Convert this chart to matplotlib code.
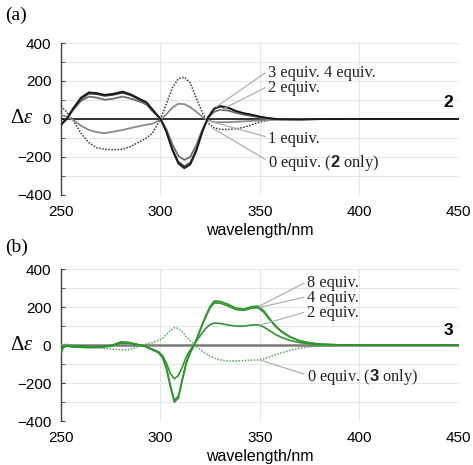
import matplotlib
matplotlib.use("Agg")
import matplotlib.pyplot as plt
from matplotlib.ticker import MultipleLocator

plt.rcParams['mathtext.fontset'] = 'custom'
plt.rcParams['mathtext.rm'] = 'Liberation Serif'
plt.rcParams['mathtext.it'] = 'Liberation Serif:italic'
plt.rcParams['mathtext.bf'] = 'Liberation Sans:bold'

# ---------------- data: panel (a) ----------------
wl_a = [250, 253, 256, 260, 264, 268, 272, 276, 281, 285, 290, 293, 296, 300, 303, 306, 309, 312,
        315, 318, 321, 324, 327, 330, 334, 338, 342, 346, 350, 355, 360, 370, 380, 400, 450]
a_4eq = [-32, 2, 55, 112, 140, 136, 127, 132, 144, 130, 103, 88, 50, 0, -70, -165, -235, -260,
         -240, -170, -70, 10, 55, 68, 60, 42, 30, 22, 12, 3, -2, -3, -1, 0, 0]
a_3eq = [-30, 2, 50, 105, 133, 130, 121, 126, 137, 124, 98, 84, 48, 0, -66, -158, -225, -250,
         -230, -162, -66, 9, 52, 65, 57, 40, 29, 21, 11, 3, -2, -3, -1, 0, 0]
a_2eq = [-25, 2, 45, 95, 118, 112, 101, 106, 118, 107, 90, 75, 40, 0, -55, -135, -195, -216,
         -200, -140, -58, 6, 38, 48, 44, 32, 22, 15, 8, 2, -1, -2, -1, 0, 0]
a_1eq = [20, 12, -5, -35, -58, -70, -75, -68, -58, -48, -37, -30, -25, -5, 25, 60, 80, 78,
         62, 38, 12, -8, -17, -18, -17, -15, -13, -10, -8, -5, -3, -2, -1, 0, 0]
a_0eq = [68, 35, -5, -75, -125, -152, -160, -162, -160, -145, -118, -100, -75, 0, 80, 165, 212, 220,
         190, 110, 35, -23, -47, -55, -56, -52, -44, -30, -16, -6, -3, -1, 0, 0, 0]

# ---------------- data: panel (b) ----------------
wl_b = [250, 251, 253, 256, 260, 265, 270, 275, 280, 284, 288, 292, 296, 299, 301, 303, 305, 307,
        309, 311, 313, 315, 317, 319, 321, 323, 325, 327, 330, 334, 338, 342, 346, 349, 352, 355,
        358, 361, 365, 370, 375, 380, 390, 400, 450]
b_8eq = [-45, -15, -3, -8, -5, -10, -9, -3, 16, 14, 4, -5, -25, -40, -65, -125, -220, -300,
         -280, -185, -95, -40, 0, 55, 110, 160, 205, 232, 230, 215, 195, 190, 203, 205, 180, 138,
         100, 72, 45, 23, 12, 5, 1, 0, 0]
b_4eq = [-40, -12, -3, -8, -5, -10, -9, -3, 15, 13, 4, -5, -24, -38, -62, -120, -212, -290,
         -270, -178, -92, -38, 0, 52, 105, 153, 197, 222, 221, 206, 187, 183, 195, 197, 173, 133,
         96, 69, 43, 22, 11, 5, 1, 0, 0]
b_2eq = [-30, -10, -5, -10, -12, -14, -12, -6, 10, 10, 3, -5, -22, -35, -55, -95, -150, -178,
         -160, -115, -62, -25, 3, 35, 65, 90, 108, 116, 114, 106, 100, 100, 106, 107, 95, 75,
         55, 40, 25, 13, 7, 3, 1, 0, 0]
b_0eq = [0, 2, 5, -3, -5, -8, -15, -20, -25, -24, -12, 3, 14, 25, 35, 55, 78, 92,
         88, 70, 45, 22, 3, -15, -32, -45, -58, -68, -78, -84, -83, -81, -79, -78, -72, -62,
         -50, -40, -28, -16, -9, -5, -1, 0, 0]

labels_a = ["3 equiv. 4 equiv.", "2 equiv.", "1 equiv.", r"0 equiv. ($\mathbf{2}$ only)"]
labels_b = ["8 equiv.", "4 equiv.", "2 equiv.", r"0 equiv. ($\mathbf{3}$ only)"]

fig = plt.figure(figsize=(4.73, 4.65), dpi=100)
axA = fig.add_axes([0.129, 0.581, 0.841, 0.3265])
axB = fig.add_axes([0.129, 0.0946, 0.841, 0.3265])

def style(ax, zero_color, zero_lw):
    ax.set_xlim(250, 450)
    ax.set_ylim(-400, 400)
    ax.xaxis.set_major_locator(MultipleLocator(50))
    ax.yaxis.set_major_locator(MultipleLocator(200))
    ax.yaxis.set_minor_locator(MultipleLocator(100))
    ax.grid(True, which='both', axis='y', color='#e6e6e6', lw=0.8)
    ax.grid(True, which='major', axis='x', color='#e6e6e6', lw=0.8)
    ax.set_axisbelow(True)
    for s in ['top', 'right', 'bottom']:
        ax.spines[s].set_visible(False)
    ax.spines['left'].set_color('#404040')
    ax.spines['left'].set_linewidth(1.0)
    ax.tick_params(axis='x', length=0, pad=7, labelsize=11)
    ax.tick_params(axis='y', which='major', length=3, direction='in', pad=7, labelsize=11, color='#404040')
    ax.tick_params(axis='y', which='minor', length=3, direction='in', color='#404040')
    for t in ax.get_xticklabels() + ax.get_yticklabels():
        t.set_fontfamily('Liberation Sans')
    ax.axhline(0, color=zero_color, lw=zero_lw, zorder=2)
    ax.set_xlabel('wavelength/nm', fontfamily='Liberation Sans', fontsize=11.5, labelpad=3)
    ax.text(-0.07, 0.5, r'Δ$\mathit{ε}$', transform=ax.transAxes, ha='right', va='center',
            fontfamily='Liberation Serif', fontsize=15)

style(axA, 'black', 1.1)
style(axB, '#7a7a7a', 1.8)

# panel (a) curves
axA.plot(wl_a, a_0eq, color='#3a3a3a', lw=1.1, ls=(0, (1, 1)), zorder=3)
axA.plot(wl_a, a_1eq, color='#8a8a8a', lw=1.3, zorder=3)
axA.plot(wl_a, a_2eq, color='#6e6e6e', lw=1.3, zorder=3)
axA.plot(wl_a, a_3eq, color='#333333', lw=1.1, zorder=3)
axA.plot(wl_a, a_4eq, color='#1a1a1a', lw=1.3, zorder=3)

# panel (b) curves
g = '#2f962f'
axB.plot(wl_b, b_0eq, color='#55aa55', lw=1.1, ls=(0, (1, 1)), zorder=3)
axB.plot(wl_b, b_2eq, color=g, lw=1.2, zorder=3)
axB.plot(wl_b, b_4eq, color=g, lw=1.2, zorder=3)
axB.plot(wl_b, b_8eq, color=g, lw=1.2, zorder=3)

lead = dict(arrowstyle='-', color='#b0b0b0', lw=0.9, shrinkA=0, shrinkB=0, relpos=(0, 0.6))
txt = dict(fontfamily='Liberation Serif', fontsize=11.8, ha='left', va='center', color='#222222')

# (a) annotations: (label, text y, target x, target y)
ann_a_ty = [244, 163, -105, -232]
ann_a_px = [328, 330, 324, 326]
ann_a_py = [63, 45, -10, -47]
for lab, ty, px, py in zip(labels_a, ann_a_ty, ann_a_px, ann_a_py):
    axA.annotate(lab, xy=(px, py), xytext=(354, ty), arrowprops=lead, **txt)

ann_b_ty = [325, 247, 168, -167]
ann_b_px = [350, 350, 350, 350]
ann_b_py = [207, 199, 105, -79]
for lab, ty, px, py in zip(labels_b, ann_b_ty, ann_b_px, ann_b_py):
    axB.annotate(lab, xy=(px, py), xytext=(373.5, ty), arrowprops=lead, **txt)

axA.text(447, 84, '2', fontfamily='Liberation Sans', fontweight='bold', fontsize=12.5, ha='right', va='center')
axB.text(447, 79, '3', fontfamily='Liberation Sans', fontweight='bold', fontsize=12.5, ha='right', va='center')

fig.text(5 / 473, 1 - 15 / 465, '(a)', fontfamily='Liberation Serif', fontsize=14, ha='left', va='center')
fig.text(5 / 473, 1 - 247 / 465, '(b)', fontfamily='Liberation Serif', fontsize=14, ha='left', va='center')

fig.savefig('out.png', dpi=100)
